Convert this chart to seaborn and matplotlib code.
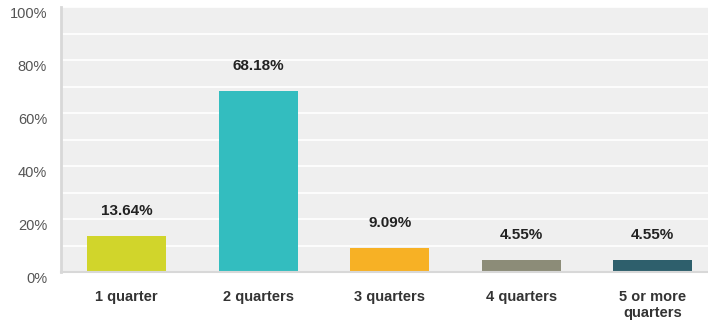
import matplotlib
matplotlib.use("Agg")
import matplotlib.pyplot as plt
import seaborn as sns
import pandas as pd

categories = ["1 quarter", "2 quarters", "3 quarters", "4 quarters", "5 or more\nquarters"]
values = [13.64, 68.18, 9.09, 4.55, 4.55]
colors = ["#D1D52B", "#33BDBF", "#F7B125", "#8C8C78", "#2E5F6C"]
yticks = [0, 20, 40, 60, 80, 100]

sns.set_theme(style="white")
plt.rcParams["font.family"] = ["Liberation Sans", "DejaVu Sans"]

fig = plt.figure(figsize=(7.08, 3.21), dpi=100)
ax = fig.add_axes([61/708, 49/321, 1 - 61/708, 265/321])
df = pd.DataFrame({"cat": categories, "val": values})
sns.barplot(data=df, x="cat", y="val", hue="cat", palette=colors, width=0.6,
            legend=False, ax=ax, saturation=1, linewidth=0)

ax.set_facecolor("#EFEFEF")
ax.set_ylim(0, 100)
ax.set_xlim(-0.5, 4.42)
ax.set_yticks(yticks)
ax.set_yticks(range(10, 100, 20), minor=True)
ax.set_yticklabels([f"{t}%" for t in yticks], fontsize=10.5, color="#555555")
for lbl in ax.get_yticklabels():
    lbl.set_verticalalignment("top")
ax.grid(axis="y", which="both", color="white", linewidth=1.2)
ax.set_axisbelow(True)
ax.tick_params(axis="y", which="both", length=0, pad=10)
ax.tick_params(axis="x", length=0, pad=13)
for lbl in ax.get_xticklabels():
    lbl.set_fontweight("bold")
    lbl.set_fontsize(10.5)
    lbl.set_color("#333333")
    lbl.set_verticalalignment("top")
ax.set_xlabel("")
ax.set_ylabel("")
for s in ["top", "right"]:
    ax.spines[s].set_visible(False)
ax.spines["left"].set_color("#D8D8D8")
ax.spines["left"].set_linewidth(2)
ax.spines["bottom"].set_color("#D8D8D8")
ax.spines["bottom"].set_linewidth(1.5)

for i, v in enumerate(values):
    ax.annotate(f"{v:.2f}%", (i, v), xytext=(0, 13), textcoords="offset points",
                ha="center", va="bottom", fontsize=11, fontweight="bold", color="#222222")

fig.savefig("out.png", dpi=100)
